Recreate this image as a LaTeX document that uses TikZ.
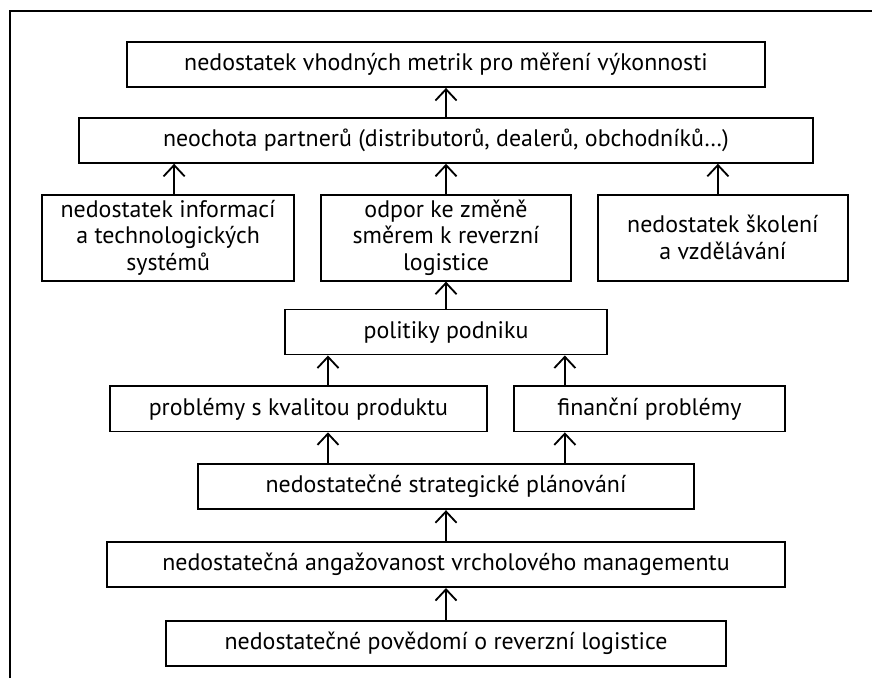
\documentclass[tikz,border=0pt]{standalone}
\usepackage{fontspec}
\setmainfont{PT Sans}
\usepackage{tikz}
\usetikzlibrary{arrows.meta, positioning}

\begin{document}
\begin{tikzpicture}[
    x=0.025cm, y=-0.025cm,
    box/.style={rectangle, draw, line width=1.3pt, inner sep=0pt, minimum height=1.125cm, align=center, font=\fontsize{17pt}{19pt}\selectfont},
    tallbox/.style={box, minimum height=2.15cm, minimum width=6.25cm},
    arrow/.style={-{Straight Barb[length=8pt, width=15pt]}, line width=1.3pt},
    frame/.style={line width=1.3pt}
]
\useasboundingbox (0,0) rectangle (872,678);

% outer frame (only top and left edges visible)
\draw[frame] (10,678) -- (10,11) -- (872,11);

% top levels
\node[box, minimum width=15.95cm] (metrics) at (446,64.5) {nedostatek vhodných metrik pro měření výkonnosti};
\node[box, minimum width=18.325cm, below=0.725cm of metrics] (partners) {neochota partnerů (distributorů, dealerů, obchodníků\dots)};

% three parallel barriers
\node[tallbox, below=0.75cm of partners] (resistance) {odpor ke změně\\směrem k reverzní\\logistice};
\node[tallbox, minimum width=6.3cm, left=0.625cm of resistance] (info) {nedostatek informací\\a technologických\\systémů};
\node[tallbox, right=0.625cm of resistance] (training) {nedostatek školení\\a vzdělávání};

% company level
\node[box, minimum width=8.05cm, below=0.675cm of resistance] (policies) {politiky podniku};
\node[box, minimum width=9.425cm, below=0.75cm of policies, xshift=-3.6875cm] (quality) {problémy s kvalitou produktu};
\node[box, minimum width=6.775cm, right=0.625cm of quality] (finance) {finanční problémy};

% management level
\node[box, minimum width=12.4cm, below=0.775cm of quality, xshift=3.6875cm] (planning) {nedostatečné strategické plánování};
\node[box, minimum width=16.95cm, below=0.775cm of planning] (commitment) {nedostatečná angažovanost vrcholového managementu};
\node[box, minimum width=14cm, below=0.8cm of commitment] (awareness) {nedostatečné povědomí o reverzní logistice};

% arrows upwards
\draw[arrow] (partners.north) -- (metrics.south);
\draw[arrow] ([xshift=0.15cm]info.north) -- ([xshift=0.15cm]info.north |- partners.south);
\draw[arrow] (resistance.north) -- (resistance.north |- partners.south);
\draw[arrow] ([xshift=-0.125cm]training.north) -- ([xshift=-0.125cm]training.north |- partners.south);
\draw[arrow] (policies.north) -- (resistance.south);
\draw[arrow] ([xshift=0.7375cm]quality.north) -- ([xshift=0.7375cm]quality.north |- policies.south);
\draw[arrow] ([xshift=-2.1125cm]finance.north) -- ([xshift=-2.1125cm]finance.north |- policies.south);
\draw[arrow] ([xshift=0.7375cm]quality.south |- planning.north) -- ([xshift=0.7375cm]quality.south);
\draw[arrow] ([xshift=-2.1125cm]finance.south |- planning.north) -- ([xshift=-2.1125cm]finance.south);
\draw[arrow] (commitment.north) -- (planning.south);
\draw[arrow] (awareness.north) -- (commitment.south);

\end{tikzpicture}
\end{document}
